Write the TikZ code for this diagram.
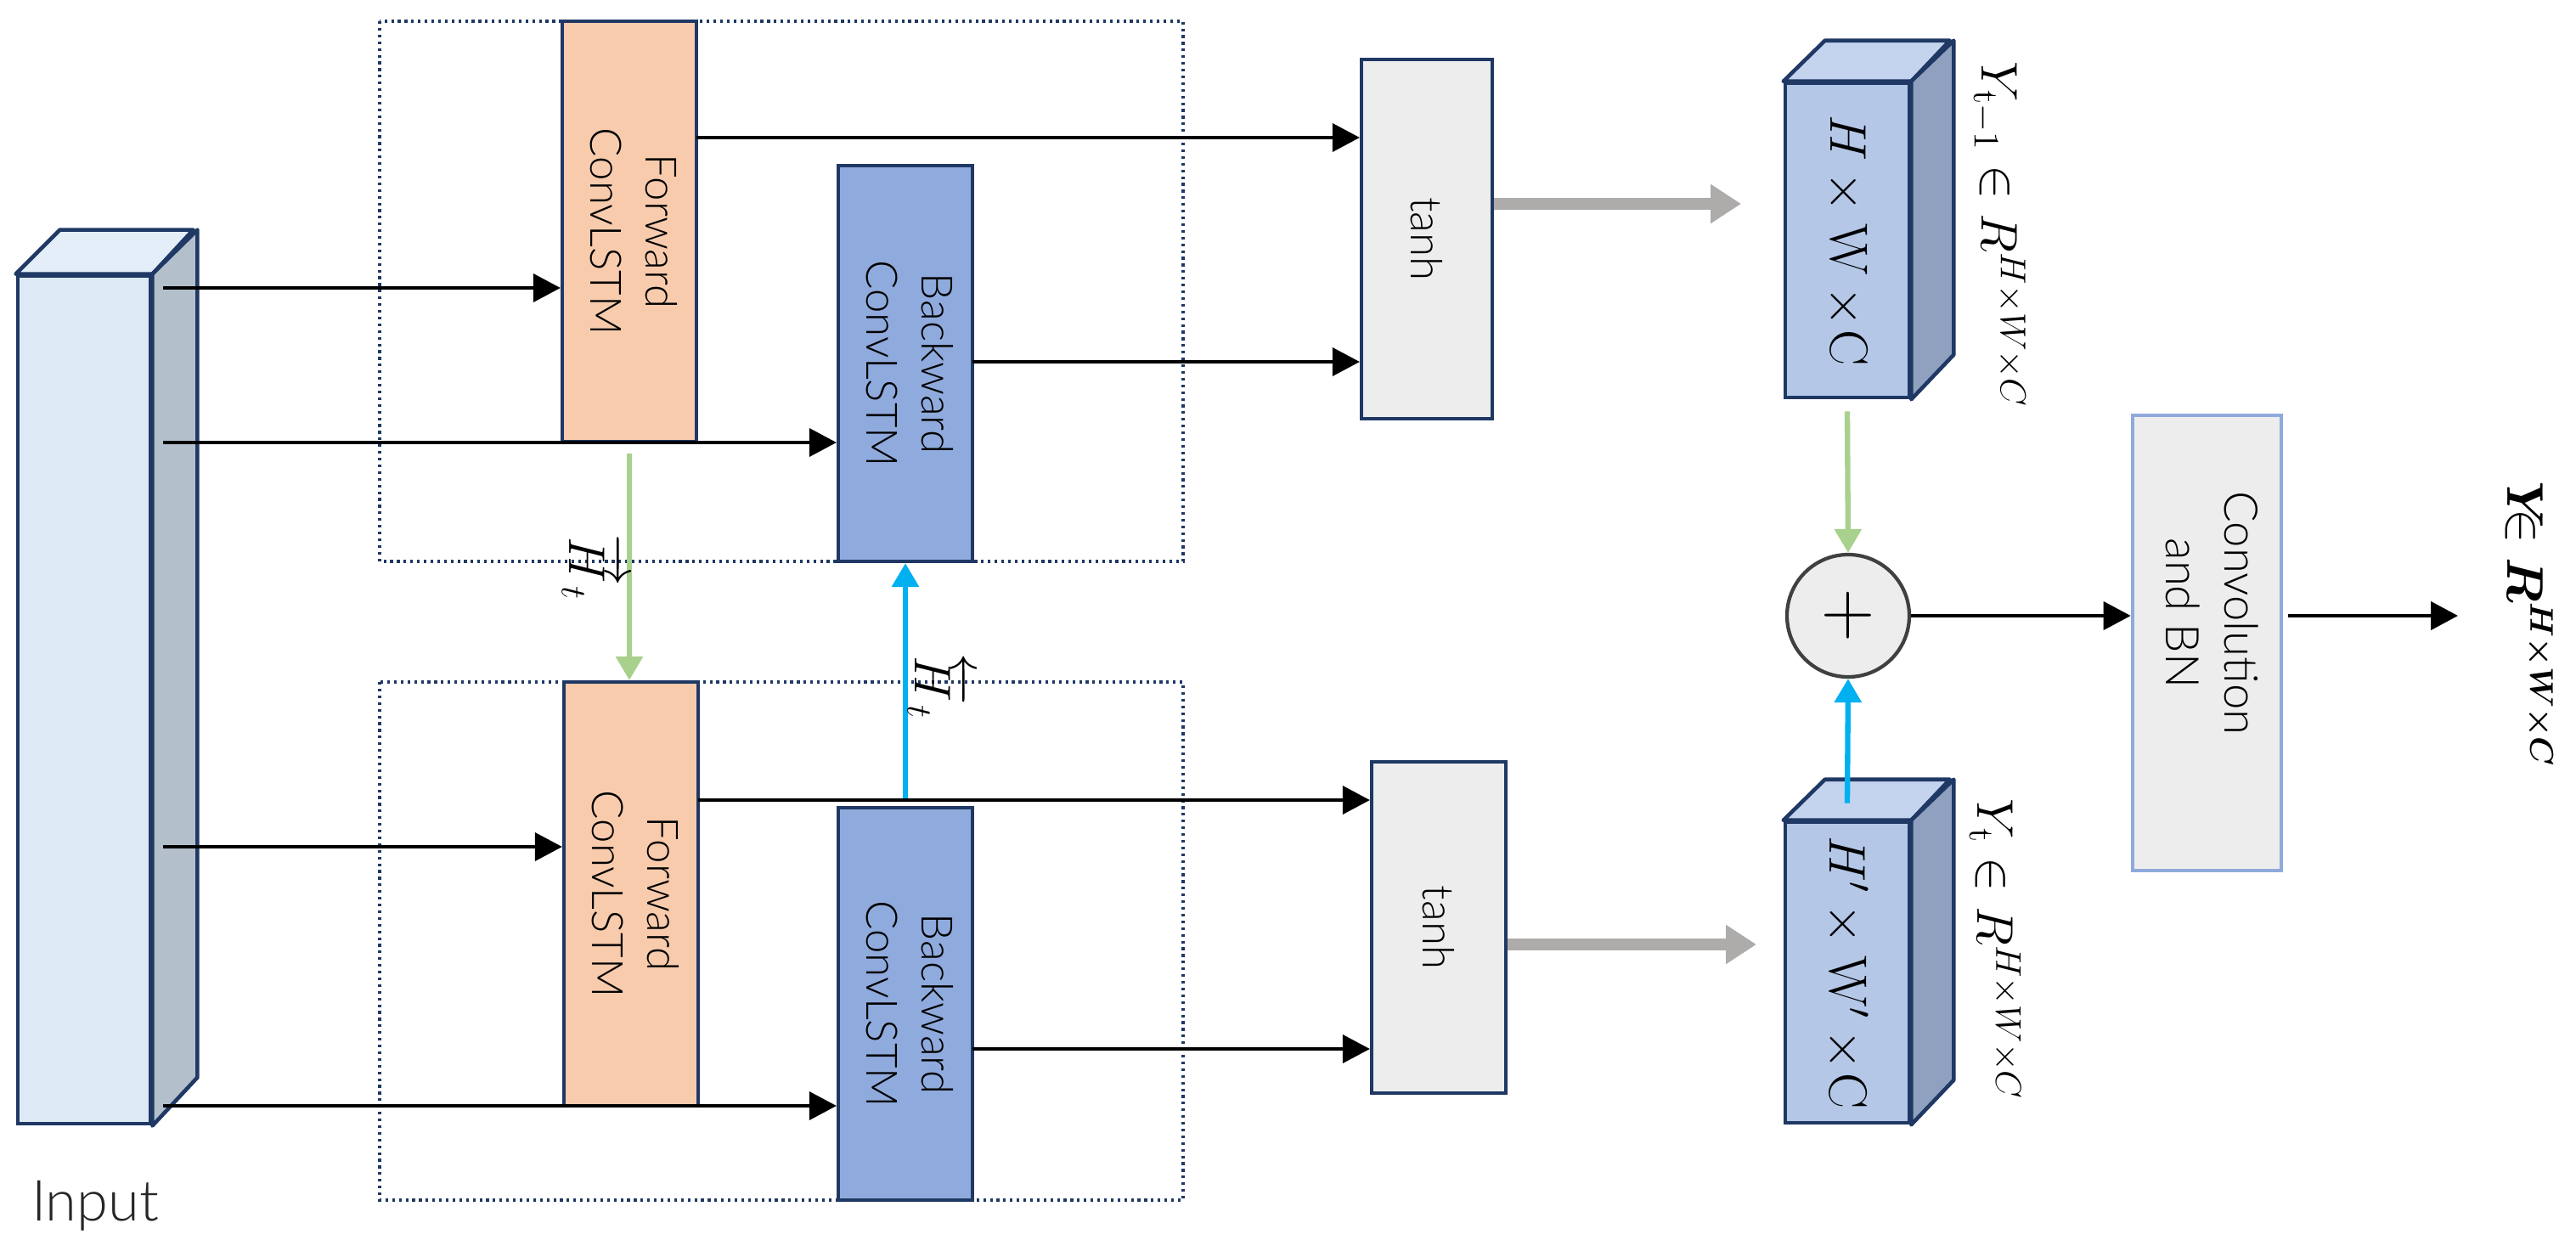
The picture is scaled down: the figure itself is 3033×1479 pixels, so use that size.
\documentclass[tikz,border=0pt]{standalone}
\usepackage{amsmath}
\usepackage{graphicx}
\usepackage{fontspec}
\setsansfont{Lato Light}
\usetikzlibrary{arrows.meta,calc}
\definecolor{navy}{HTML}{1F3864}
\definecolor{peach}{HTML}{F8CBAD}
\definecolor{bwdblue}{HTML}{8FAADC}
\definecolor{lgray}{HTML}{EDEDED}
\definecolor{cubefront}{HTML}{B4C7E7}
\definecolor{cubetop}{HTML}{C5D4EE}
\definecolor{cubeside}{HTML}{8FA1BF}
\definecolor{infront}{HTML}{DDEAF6}
\definecolor{intop}{HTML}{E4EEF8}
\definecolor{inside}{HTML}{B3BFCB}
\definecolor{gline}{HTML}{A9D18E}
\definecolor{bline}{HTML}{00B0F0}
\definecolor{grayline}{HTML}{AEABAB}
\definecolor{convline}{HTML}{8FAADC}
\newcommand{\rottext}[1]{\rotatebox{-90}{\begin{tabular}{@{}c@{}}#1\end{tabular}}}
\begin{document}
\begin{tikzpicture}[x=0.1mm,y=-0.1mm,
  blk/.style={draw=navy, line width=1.2pt, inner sep=0pt, font=\sffamily\fontsize{14.5}{18.5}\selectfont},
  cubeline/.style={draw=navy, line width=1.3pt, line join=round},
  arr/.style={line width=1.1pt, -{Triangle[length=3.2mm,width=3.3mm]}},
  garr/.style={draw=gline, line width=1.8pt, -{Triangle[length=2.8mm,width=3.1mm]}},
  barr/.style={draw=bline, line width=1.8pt, -{Triangle[length=2.8mm,width=3.1mm]}},
  grarr/.style={draw=grayline, line width=4pt, -{Triangle[length=3.6mm,width=4.4mm]}},
  dotbox/.style={draw=navy, line width=0.9pt, dash pattern=on 0.9pt off 1.35pt},
  mlabel/.style={rotate=-90, inner sep=0pt, font=\fontsize{17}{17}\selectfont}
]
\fill[white] (0,0) rectangle (3033,1479);
\useasboundingbox (0,0) rectangle (3033,1479);

% dotted group boxes
\draw[dotbox] (447,25) rectangle (1393,661);
\draw[dotbox] (447,803) rectangle (1393,1413);

% Input block
\node[draw=navy, line width=1.4pt, fill=infront, minimum width=15.6mm, minimum height=99.8mm, inner sep=0] (inp) at (99,824) {};
\draw[cubeline, fill=intop] (inp.north west) -- ++(52,-52) -- ++(157,0) -- (inp.north east) -- cycle;
\draw[cubeline, fill=inside] (inp.north east) -- ++(53,-52) -- ++(0,998) -- (inp.south east) -- cycle;
\node[anchor=base, font=\sffamily\fontsize{19}{19}\selectfont, text=black!85] (inlab) at (112,1437) {Input};

% ConvLSTM blocks
\node[blk, fill=peach, minimum width=15.8mm, minimum height=49.5mm] (fwdU) at (741,272.5) {\rottext{Forward\\ConvLSTM}};
\node[blk, fill=bwdblue, minimum width=15.8mm, minimum height=46.6mm] (bwdU) at (1066,428) {\rottext{Backward\\ConvLSTM}};
\node[blk, fill=peach, minimum width=15.8mm, minimum height=49.9mm] (fwdL) at (743,1052.5) {\rottext{Forward\\ConvLSTM}};
\node[blk, fill=bwdblue, minimum width=15.8mm, minimum height=46.2mm] (bwdL) at (1066,1182) {\rottext{Backward\\ConvLSTM}};

% tanh blocks
\node[blk, fill=lgray, minimum width=15.4mm, minimum height=42.3mm] (tanhU) at (1680,281.5) {\rotatebox{-90}{tanh}};
\node[blk, fill=lgray, minimum width=15.8mm, minimum height=39.0mm] (tanhL) at (1694,1092) {\rotatebox{-90}{tanh}};

% cubes
\node[draw=navy, line width=1.3pt, fill=cubefront, minimum width=14.6mm, minimum height=37.0mm, inner sep=0,
      font=\fontsize{18}{18}\selectfont] (cubeU) at (2175,283) {\rotatebox{-90}{$H\times \mathrm{W}\times\!\mathrm{C}$}};
\draw[cubeline, fill=cubetop] (cubeU.north west) -- ++(49,-48) -- ++(147,0) -- (cubeU.north east) -- cycle;
\draw[cubeline, fill=cubeside] (cubeU.north east) -- ++(50,-48) -- ++(0,370) -- (cubeU.south east) -- cycle;
\node[mlabel] (labU) at (2353,276) {$Y_{\mathrm{t}-1}\in R^{H\times W\times C}$};

\node[draw=navy, line width=1.3pt, fill=cubefront, minimum width=14.6mm, minimum height=35.4mm, inner sep=0,
      font=\fontsize{18}{18}\selectfont] (cubeL) at (2175,1145) {\rotatebox{-90}{$H'\times \mathrm{W}'\times\!\mathrm{C}$}};
\draw[cubeline, fill=cubetop] (cubeL.north west) -- ++(49,-48) -- ++(147,0) -- (cubeL.north east) -- cycle;
\draw[cubeline, fill=cubeside] (cubeL.north east) -- ++(50,-48) -- ++(0,354) -- (cubeL.south east) -- cycle;
\node[mlabel] (labL) at (2349,1118) {$Y_{\mathrm{t}}\in R^{H\times W\times C}$};

% sum circle
\node[circle, draw=black!75, line width=1.2pt, fill=lgray, minimum size=14.4mm, inner sep=0,
      font=\fontsize{36}{36}\selectfont] (sum) at (2176,725) {$+$};

% conv block
\node[draw=convline, line width=1.3pt, fill=lgray, minimum width=17.5mm, minimum height=53.6mm, inner sep=0] (conv) at (2598.5,757) {};
\node[inner sep=0, font=\sffamily\fontsize{15.5}{19.5}\selectfont] (convtxt) at (2598.5,722) {\rottext{Convolution\\and BN}};

% output label
\node[rotate=-90, inner sep=0pt, font=\fontsize{16}{16}\selectfont] (outlab) at (2978,735)
  {$\boldsymbol{Y}\mkern-12mu\in\boldsymbol{R}^{\boldsymbol{H\times W\times C}}$};

% input arrows
\coordinate (in1) at (192,339);
\coordinate (in2) at (192,521);
\coordinate (in3) at (192,997);
\coordinate (in4) at (192,1302);
\draw[arr] (in1) -- (fwdU.west |- in1);
\draw[arr] (in2) -- (bwdU.west |- in2);
\draw[arr] (in3) -- (fwdL.west |- in3);
\draw[arr] (in4) -- (bwdL.west |- in4);

% to tanh
\coordinate (t1) at (820,162);
\coordinate (t2) at (1145,426);
\coordinate (t3) at (822,942);
\coordinate (t4) at (1145,1235);
\draw[arr] (t1) -- (tanhU.west |- t1);
\draw[arr] (t2) -- (tanhU.west |- t2);
\draw[arr] (t3) -- (tanhL.west |- t3);
\draw[arr] (t4) -- (tanhL.west |- t4);

% hidden state transfers
\draw[garr] ([yshift=-1.2mm]fwdU.south) -- (fwdU.south |- fwdL.north);
\draw[barr] ([yshift=0.9mm]bwdL.north) -- (bwdL.north |- bwdU.south);
\node[rotate=-90, inner sep=0pt, font=\fontsize{18}{18}\selectfont] (hf) at (698,668) {$\overrightarrow{H}_{t}$};
\node[rotate=-90, inner sep=0pt, font=\fontsize{18}{18}\selectfont] (hb) at (1105,808) {$\overleftarrow{H}_{t}$};

% tanh to cubes
\coordinate (gU) at (2050,240);
\coordinate (gL) at (2068,1112);
\draw[grarr] (tanhU.east |- gU) -- (gU);
\draw[grarr] (tanhL.east |- gL) -- (gL);

% cubes to sum
\draw[garr] ([yshift=-1.4mm]cubeU.south) -- (sum.north);
\draw[barr] ([yshift=2mm]cubeL.north) -- (sum.south);

% sum to conv to output
\coordinate (outtip) at (2894,725);
\draw[arr] (sum.east) -- (conv.west |- sum.east);
\draw[arr, line width=1.3pt] ([xshift=0.6mm]conv.east |- outtip) -- (outtip);
\end{tikzpicture}
\end{document}
